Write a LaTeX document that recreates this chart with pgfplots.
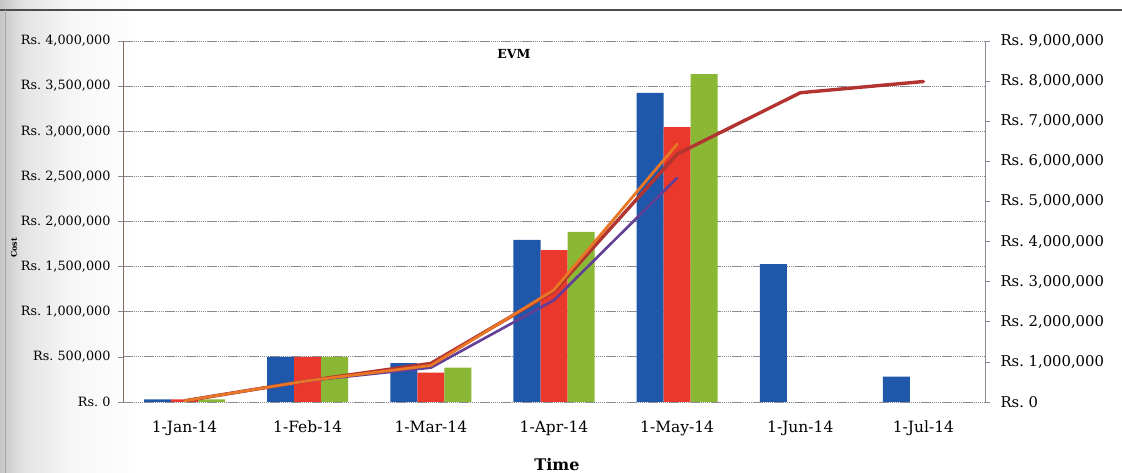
\documentclass[border=0pt]{standalone}
\usepackage{fontspec}
\setmainfont{DejaVu Serif}
\usepackage{pgfplots}
\pgfplotsset{compat=1.18}

\definecolor{barblue}{RGB}{31,88,170}
\definecolor{barred}{RGB}{234,56,44}
\definecolor{bargreen}{RGB}{138,184,52}
\definecolor{pvline}{RGB}{178,52,48}
\definecolor{evline}{RGB}{232,118,36}
\definecolor{acline}{RGB}{98,62,150}
\definecolor{gridgray}{RGB}{140,138,148}
\definecolor{leftaxis}{RGB}{130,108,96}

% soft grey fade along the left paper edge
\pgfdeclarehorizontalshading{edgefade}{100bp}{%
  color(0bp)=(gray!45); color(25bp)=(gray!45); color(33bp)=(gray!22);
  color(50bp)=(gray!7); color(75bp)=(white); color(100bp)=(white)}

\begin{document}
\begin{tikzpicture}[x=1pt,y=1pt]
\useasboundingbox (0,0) rectangle (1122,473);
% paper edge and frame
\shade[shading=edgefade] (0,0) rectangle (140,473);
\draw[gray!60!black, line width=1.2pt] (0,463) -- (1122,463);
\draw[gray!70, line width=0.8pt] (5,0) -- (5,463);

% monthly costs (left axis)
\begin{axis}[
  at={(123pt,71pt)}, anchor=south west, scale only axis,
  width=862pt, height=361pt,
  xmin=-0.5, xmax=6.5, ymin=0, ymax=4000000,
  ybar=0pt, bar width=27pt,
  axis y line*=left, axis x line*=bottom,
  x axis line style={draw=none},
  y axis line style={leftaxis, line width=1pt},
  xtick={0,...,6},
  xticklabels={1-Jan-14,1-Feb-14,1-Mar-14,1-Apr-14,1-May-14,1-Jun-14,1-Jul-14},
  xtick style={draw=none},
  x tick label style={font=\fontsize{15.5}{17}\selectfont, yshift=-10pt},
  ytick={0,500000,...,4000000},
  yticklabels={{Rs.\ 0},{Rs.\ 500,000},{Rs.\ 1,000,000},{Rs.\ 1,500,000},{Rs.\ 2,000,000},{Rs.\ 2,500,000},{Rs.\ 3,000,000},{Rs.\ 3,500,000},{Rs.\ 4,000,000}},
  y tick label style={font=\fontsize{12.8}{14}\selectfont, xshift=-4pt},
  tick align=outside, major tick length=5pt,
  ytick style={gridgray, line width=0.7pt},
  ymajorgrids, grid style={gridgray, line width=0.8pt, dash pattern=on 1.5pt off 0.6pt},
  scaled y ticks=false,
  clip=false,
]
\addplot[fill=barblue, draw=none] coordinates
  {(0,30000) (1,500000) (2,432000) (3,1795000) (4,3424000) (5,1529000) (6,280000)};
\addplot[fill=barred, draw=none] coordinates
  {(0,30000) (1,500000) (2,325000) (3,1684000) (4,3047000)};
\addplot[fill=bargreen, draw=none] coordinates
  {(0,30000) (1,500000) (2,380000) (3,1884000) (4,3634000)};
\end{axis}

% cumulative costs (right axis)
\begin{axis}[
  at={(123pt,71pt)}, anchor=south west, scale only axis,
  width=862pt, height=361pt,
  xmin=-0.5, xmax=6.5, ymin=0, ymax=9000000,
  axis y line*=right, axis x line=none,
  y axis line style={gridgray, line width=0.9pt},
  ytick={0,1000000,...,9000000},
  yticklabels={{Rs.\ 0},{Rs.\ 1,000,000},{Rs.\ 2,000,000},{Rs.\ 3,000,000},{Rs.\ 4,000,000},{Rs.\ 5,000,000},{Rs.\ 6,000,000},{Rs.\ 7,000,000},{Rs.\ 8,000,000},{Rs.\ 9,000,000}},
  y tick label style={font=\fontsize{14.8}{16}\selectfont, xshift=7pt},
  tick align=outside, major tick length=5pt,
  ytick style={gridgray, line width=0.7pt},
  scaled y ticks=false,
]
\addplot[pvline, line width=3.4pt, line join=round, line cap=round] coordinates
  {(0,30000) (1,530000) (2,962000) (3,2757000) (4,6181000) (5,7710000) (6,7990000)};
\addplot[acline, line width=2.6pt, line join=round, line cap=round] coordinates
  {(0,30000) (1,530000) (2,855000) (3,2539000) (4,5586000)};
\addplot[evline, line width=2.8pt, line join=round, line cap=round] coordinates
  {(0,30000) (1,530000) (2,910000) (3,2794000) (4,6428000)};
\end{axis}

\node[font=\bfseries\fontsize{12.5}{14}\selectfont] at (514,419) {EVM};
\node[font=\bfseries\fontsize{16}{18}\selectfont] at (557,8) {Time};
\node[font=\bfseries\fontsize{8}{9}\selectfont, rotate=90] at (14,225) {Cost};
\end{tikzpicture}
\end{document}
